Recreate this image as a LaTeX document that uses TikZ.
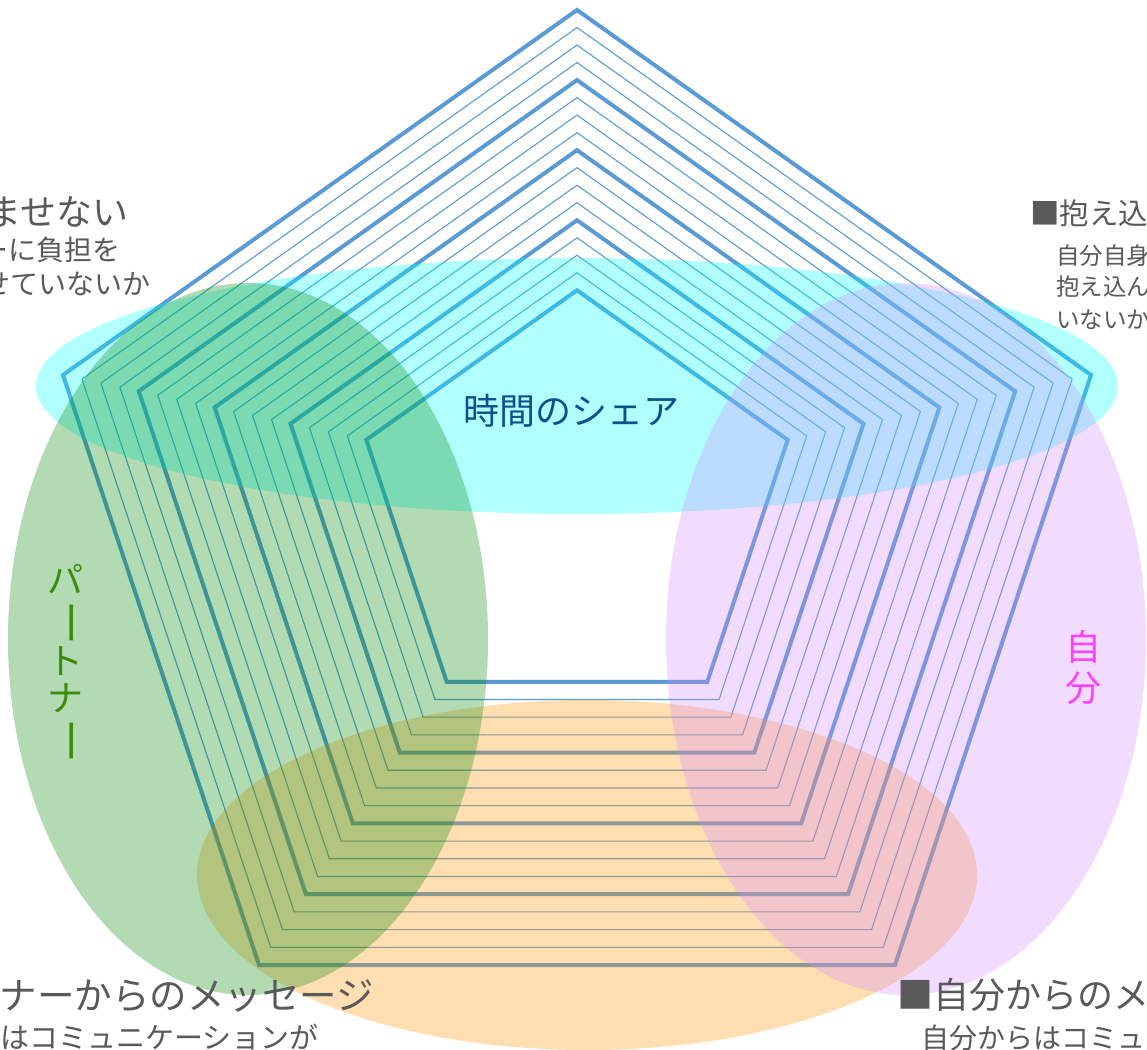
\documentclass[tikz,border=0pt]{standalone}
\usepackage{fontspec}
\setmainfont{Noto Sans CJK JP}
\usepackage{graphicx}
\definecolor{gridblue}{RGB}{91,155,213}
\definecolor{txtgray}{RGB}{89,89,89}
\definecolor{titleblue}{RGB}{12,80,140}
\definecolor{ptgreen}{RGB}{60,140,10}
\definecolor{selfmag}{RGB}{255,64,255}
\definecolor{elcyan}{RGB}{0,255,255}
\definecolor{elorange}{RGB}{255,150,0}
\definecolor{elgreen}{RGB}{0,135,5}
\definecolor{elpurple}{RGB}{210,140,255}
\tikzset{
  graytxt/.style={text=txtgray, inner sep=0pt},
  fs/.style={font=\fontsize{#1}{#1}\selectfont},
  labeltxt/.style={font=\fontsize{36}{37.5}\selectfont, inner sep=0pt, align=center},
  blob/.style={opacity=0.3}
}
\newcommand{\vbar}{\rotatebox[origin=c]{-90}{\scalebox{1.25}[1.1]{ー}}}
\begin{document}
\begin{tikzpicture}[x=1pt,y=-1pt]
\useasboundingbox (0,0) rectangle (1147,1049);
\fill[white] (0,0) rectangle (1147,1049);
% radar grid
\foreach \k in {0,...,16}{
  \pgfmathsetmacro{\s}{1-\k*0.036875}
  \pgfmathtruncatemacro{\m}{mod(\k,4)}
  \ifnum\m=0 \def\lw{4pt}\else\def\lw{1.1pt}\fi
  \begin{scope}[shift={(577,485)},scale=\s]
    \draw[gridblue, line width=\lw] (0,-475) -- (514,-110) -- (318,480) -- (-318,480) -- (-514,-110) -- cycle;
  \end{scope}
}
% translucent regions
\fill[elcyan, blob] (577,386) ellipse [x radius=541pt, y radius=128pt];
\fill[elorange, blob] (587,875) ellipse [x radius=390pt, y radius=175pt];
\fill[elgreen, blob] (248,639) ellipse [x radius=240pt, y radius=356pt];
\fill[elpurple, blob] (906,639) ellipse [x radius=240pt, y radius=356pt];
% labels
\node[labeltxt, text=titleblue] (share) at (571,411) {時間のシェア};
\node[labeltxt, text=ptgreen] (partner) at (65,664) {パ\\\vbar\\ト\\ナ\\\vbar};
\node[labeltxt, text=selfmag, font=\fontsize{36}{41}\selectfont] (self) at (1083,667) {自\\分};
% side texts
\node[graytxt, fs=36, anchor=base east] (tl1) at (129,225) {ませない};
\node[graytxt, fs=28, anchor=base east] (tl2) at (121,260.5) {ーに負担を};
\node[graytxt, fs=28, anchor=base east] (tl3) at (151,294.5) {せていないか};
\node[graytxt, fs=29.5, anchor=base west] (tr1) at (1030,224) {■抱え込};
\node[graytxt, fs=23.5, anchor=base west] (tr2) at (1056,264) {自分自身};
\node[graytxt, fs=23.5, anchor=base west] (tr3) at (1056,295) {抱え込ん};
\node[graytxt, fs=23.5, anchor=base west] (tr4) at (1056,328) {いないか};
\node[graytxt, fs=37.5, anchor=base east] (bl1) at (374,1009) {ナーからのメッセージ};
\node[graytxt, fs=29, anchor=base east] (bl2) at (319,1048) {はコミュニケーションが};
\node[graytxt, fs=36, anchor=base west] (br1) at (897,1008) {■自分からのメ};
\node[graytxt, fs=28, anchor=base west] (br2) at (921,1048) {自分からはコミュ};
\end{tikzpicture}
\end{document}
